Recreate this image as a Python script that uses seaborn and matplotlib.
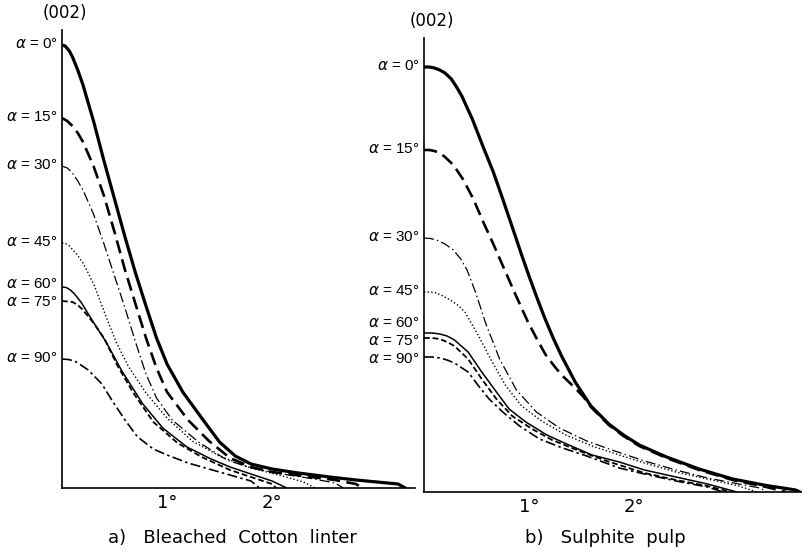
import matplotlib
matplotlib.use("Agg")
import matplotlib.pyplot as plt
import numpy as np
import pandas as pd
import seaborn as sns

# ---------------- data (x in degrees, intensity in arbitrary units) ----------------
angles = [0, 15, 30, 45, 60, 75, 90]
angle_labels = [r"$\alpha$ = %d°" % a for a in angles]
tick_values = [1, 2]
tick_labels = ["1°", "2°"]
panel_titles = ["a)   Bleached  Cotton  linter", "b)   Sulphite  pulp"]
peak_label = "(002)"

# a) Bleached cotton linter
a_x0 = [0, 0.03, 0.07, 0.1, 0.15, 0.2, 0.3, 0.4, 0.5, 0.6, 0.7, 0.8, 0.9, 1.0, 1.15, 1.33, 1.5, 1.65, 1.8, 2.0, 2.25, 2.55, 2.8, 3.0, 3.2, 3.27]
a_y0 = [443, 442, 437, 431, 418, 403, 367, 327, 289, 251, 215, 182, 150, 124, 96, 70, 46, 32, 24, 19, 15, 11, 8, 6, 4, 0]
a_x15 = [0, 0.05, 0.1, 0.15, 0.2, 0.3, 0.4, 0.5, 0.6, 0.7, 0.8, 0.9, 1.0, 1.2, 1.4, 1.6, 1.8, 2.0, 2.3, 2.6, 2.8, 2.86]
a_y15 = [370, 367, 362, 355, 346, 322, 292, 256, 218, 184, 150, 120, 96, 68, 47, 30, 21, 16, 12, 8, 4, 0]
a_x30 = [0, 0.05, 0.1, 0.15, 0.2, 0.3, 0.4, 0.5, 0.6, 0.7, 0.8, 0.9, 1.05, 1.3, 1.57, 1.8, 2.1, 2.4, 2.6, 2.68]
a_y30 = [322, 320, 315, 307, 298, 274, 244, 212, 180, 146, 114, 90, 68, 46, 28, 20, 14, 9, 5, 0]
a_x45 = [0, 0.04, 0.07, 0.14, 0.2, 0.24, 0.31, 0.37, 0.44, 0.52, 0.63, 0.8, 1.0, 1.24, 1.5, 1.8, 2.1, 2.3, 2.41]
a_y45 = [245, 244, 242, 234, 225, 217, 202, 185, 166, 145, 122, 95, 70, 47, 32, 20, 12, 6, 0]
a_x60 = [0, 0.04, 0.08, 0.12, 0.18, 0.28, 0.42, 0.57, 0.77, 0.96, 1.19, 1.42, 1.6, 1.8, 2.0, 2.14]
a_y60 = [201, 200.5, 198, 194, 186, 169, 146, 117, 84, 60, 41, 29, 21, 14, 7, 0]
a_x75 = [0, 0.1, 0.15, 0.2, 0.3, 0.4, 0.53, 0.68, 0.87, 1.1, 1.33, 1.6, 1.8, 2.0, 2.04]
a_y75 = [187, 186, 183, 178, 165, 150, 122, 95, 66, 45, 31, 18, 11, 4, 0]
a_x90 = [0, 0.06, 0.12, 0.18, 0.25, 0.38, 0.48, 0.6, 0.72, 0.87, 1.0, 1.2, 1.4, 1.6, 1.8, 1.88]
a_y90 = [129, 128.5, 127, 123, 118, 104, 87, 68, 51, 39, 33, 25, 19, 13, 7, 0]

# b) Sulphite pulp
b_x0 = [0, 0.05, 0.1, 0.15, 0.2, 0.26, 0.31, 0.36, 0.46, 0.56, 0.66, 0.75, 0.85, 0.93, 1.0, 1.08, 1.15, 1.23, 1.31, 1.44, 1.59, 1.76, 1.9, 2.05, 2.31, 2.62, 2.94, 3.26, 3.45, 3.54, 3.58]
b_y0 = [425, 425, 424, 422, 419, 413, 405, 396, 373, 346, 320, 293, 262, 237, 216, 193, 174, 154, 136, 110, 86, 68, 57, 47, 35, 23, 13, 6.5, 3.5, 2, 0]
b_x15 = [0, 0.05, 0.1, 0.15, 0.2, 0.28, 0.37, 0.47, 0.56, 0.66, 0.76, 0.86, 0.99, 1.08, 1.16, 1.24, 1.31, 1.38, 1.44, 1.52, 1.59, 1.76, 1.9, 2.05, 2.31, 2.62, 2.94, 3.26, 3.45]
b_y15 = [342, 342, 341, 339, 335, 327, 313, 293, 271, 248, 224, 200, 170, 152, 137, 126, 117, 110, 104, 95, 85, 67, 56, 46, 34, 22, 12, 5, 0]
b_x30 = [0, 0.06, 0.12, 0.2, 0.28, 0.35, 0.41, 0.49, 0.59, 0.72, 0.88, 1.07, 1.29, 1.55, 1.79, 2.1, 2.4, 2.7, 3.0, 3.2, 3.27]
b_y30 = [254, 253.5, 252, 248, 242, 233, 222, 200, 168, 133, 102, 80, 64, 51, 42, 31, 22, 14, 8, 4, 0]
b_x45 = [0, 0.06, 0.12, 0.18, 0.25, 0.32, 0.39, 0.52, 0.65, 0.78, 0.93, 1.12, 1.35, 1.6, 1.86, 2.1, 2.4, 2.7, 3.0, 3.17]
b_y45 = [200, 200, 199, 196, 192, 187, 180, 156, 130, 106, 86, 71, 57, 46, 37, 29, 20, 13, 6, 0]
b_x60 = [0, 0.08, 0.15, 0.22, 0.29, 0.42, 0.55, 0.69, 0.81, 0.97, 1.17, 1.38, 1.6, 1.86, 2.1, 2.4, 2.7, 2.98]
b_y60 = [159, 159, 158, 156, 152, 140, 120, 100, 83, 70, 57, 47, 37, 30, 22, 15, 8, 0]
b_x75 = [0, 0.08, 0.15, 0.22, 0.29, 0.42, 0.55, 0.69, 0.84, 1.03, 1.22, 1.48, 1.74, 1.86, 2.1, 2.4, 2.7, 2.92]
b_y75 = [154, 154, 153, 150, 146, 133, 113, 93, 76, 63, 52, 41, 31, 27, 19, 12, 6, 0]
b_x90 = [0, 0.08, 0.15, 0.22, 0.29, 0.42, 0.52, 0.62, 0.75, 0.91, 1.1, 1.32, 1.55, 1.86, 2.1, 2.4, 2.7, 2.85]
b_y90 = [135, 135, 134, 132, 129, 120, 106, 93, 80, 66, 53, 44, 36, 24, 18, 11, 5, 0]

panel_a = [(a_x0, a_y0), (a_x15, a_y15), (a_x30, a_y30), (a_x45, a_y45),
           (a_x60, a_y60), (a_x75, a_y75), (a_x90, a_y90)]
panel_b = [(b_x0, b_y0), (b_x15, b_y15), (b_x30, b_y30), (b_x45, b_y45),
           (b_x60, b_y60), (b_x75, b_y75), (b_x90, b_y90)]

# long-form table
rows = []
for pname, curves in (("a", panel_a), ("b", panel_b)):
    for ang, (xs, ys) in zip(angles, curves):
        for i, (xv, yv) in enumerate(zip(xs, ys)):
            rows.append(dict(panel=pname, alpha=ang, order=i, x=xv, y=yv))
df = pd.DataFrame(rows)

# ---------------- styles ----------------
styles = {
    0: dict(lw=2.3, ls="-"),
    15: dict(lw=1.9, ls=(0, (5, 2.4))),
    30: dict(lw=0.9, ls=(0, (8, 2.5, 1.2, 2.5))),
    45: dict(lw=1.0, ls=(0, (1.0, 1.6))),
    60: dict(lw=1.1, ls="-"),
    75: dict(lw=1.3, ls=(0, (3.2, 1.6))),
    90: dict(lw=1.2, ls=(0, (6, 2, 1.5, 2))),
}

sns.set_theme(style="white")
plt.rcParams["font.family"] = ["DejaVu Sans"]
plt.rcParams["mathtext.fontset"] = "dejavusans"

W, H = 803, 553
fig = plt.figure(figsize=(W / 100, H / 100), dpi=100)
PX_PER_DEG = 105.0

# axes geometry in pixels: (left, bottom_y_from_top, width, height)
geoms = {"a": (62, 488, 353, 458), "b": (424, 492, 379, 454)}
title_x = {"a": 232, "b": 605}
peak_dx = {"a": 2, "b": 6}

for pname in ("a", "b"):
    l, b, w, h = geoms[pname]
    ax = fig.add_axes([l / W, 1 - b / H, w / W, h / H])
    sub = df[df.panel == pname]
    for ang in angles:
        c = sub[sub.alpha == ang].sort_values("order")
        sns.lineplot(data=c, x="x", y="y", ax=ax, color="black",
                     linewidth=styles[ang]["lw"], linestyle=styles[ang]["ls"],
                     estimator=None, sort=False, legend=False,
                     solid_joinstyle="round", dash_joinstyle="round")
    ax.set_xlim(0, w / PX_PER_DEG)
    ax.set_ylim(0, h)
    for s in ("top", "right"):
        ax.spines[s].set_visible(False)
    for s in ("left", "bottom"):
        ax.spines[s].set_color("black")
        ax.spines[s].set_linewidth(1.2)
    ax.set_xticks(tick_values)
    ax.set_xticklabels(tick_labels, fontsize=13)
    ax.tick_params(axis="x", direction="in", length=4, width=1, pad=4, colors="black")
    ax.set_yticks([])
    ax.set_xlabel("")
    ax.set_ylabel("")
    ax.patch.set_alpha(0)

    # labels at the start of each curve, spread apart when too close
    starts = [sub[(sub.alpha == a) & (sub.order == 0)].y.iloc[0] for a in angles]
    pos = list(starts)
    gap = 18.0
    for _ in range(60):
        for i in range(1, len(pos)):
            d = pos[i - 1] - pos[i]
            if d < gap:
                shift = (gap - d) / 2
                pos[i - 1] += shift
                pos[i] -= shift
    for lab, yv in zip(angle_labels, pos):
        ax.annotate(lab, xy=(0, yv), xytext=(-3, 1), textcoords="offset points",
                    ha="right", va="center", fontsize=11, color="black",
                    family=["Liberation Sans", "DejaVu Sans"],
                    annotation_clip=False)

    ax.annotate(peak_label, xy=(0, 1), xycoords="axes fraction",
                xytext=(peak_dx[pname], 6), textcoords="offset points",
                ha="center", va="bottom", fontsize=12, color="black",
                annotation_clip=False)

    fig.text(title_x[pname] / W, 1 - 538 / H,
             panel_titles[0] if pname == "a" else panel_titles[1],
             ha="center", va="center", fontsize=13, color="black")

fig.savefig("out.png", dpi=100, facecolor="white")
